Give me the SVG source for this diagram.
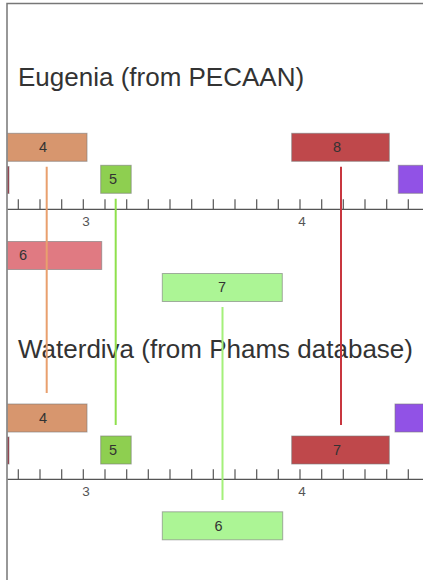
<svg xmlns="http://www.w3.org/2000/svg" width="423" height="580" viewBox="0 0 423 580">
  <style>
    .title { font-family: "Liberation Sans", Arial, sans-serif; font-size: 26px; fill: #333; }
    .lbl { font-family: "Liberation Sans", Arial, sans-serif; font-size: 14.5px; fill: #333; text-anchor: middle; }
    .axlbl { font-family: "Liberation Sans", Arial, sans-serif; font-size: 13.5px; fill: #555; text-anchor: middle; }
    .box { stroke: #7a7a7a; stroke-opacity: 0.6; stroke-width: 1; }
    .axis { stroke: #555; stroke-width: 1.2; fill: none; }
    .link { stroke-width: 2; fill: none; }
    .orange { fill: #d7966e; }
    .green { fill: #8ecf50; }
    .red { fill: #bf484b; }
    .purple { fill: #9152e6; }
    .pink { fill: #e07a82; }
    .lgreen { fill: #acf595; }
    .maroon { fill: #a03040; }
  </style>
  <defs>
    <path id="ticks" d="M18.3 0v-10M40 0v-10M61.7 0v-10M83.3 0v-10M105 0v-10M126.7 0v-10M148.3 0v-10M170 0v-10M191.7 0v-10M213.3 0v-10M235 0v-10M256.7 0v-10M278.3 0v-10M300 0v-10M321.7 0v-10M343.3 0v-10M365 0v-10M386.7 0v-10M408.3 0v-10"/>
    <clipPath id="plot">
      <rect x="7.5" y="0" width="420" height="580"/>
    </clipPath>
  </defs>

  <g clip-path="url(#plot)">
    <!-- first map -->
    <text class="title" x="18" y="86">Eugenia (from PECAAN)</text>
    <g id="axis-top">
      <path class="axis" d="M7 209.3H423"/>
      <use href="#ticks" class="axis" x="0" y="209.3"/>
      <text class="axlbl" x="86" y="226">3</text>
      <text class="axlbl" x="302" y="226">4</text>
    </g>
    <g id="t-4"><rect class="box orange" x="-20" y="133.3" width="107" height="28"/><text class="lbl" x="43" y="152">4</text></g>
    <g id="t-5"><rect class="box green" x="100.7" y="165.3" width="30.5" height="28"/><text class="lbl" x="113" y="184">5</text></g>
    <g id="t-3"><rect class="box maroon" x="-20" y="166.5" width="29" height="27"/></g>
    <g id="t-8"><rect class="box red" x="291.7" y="133.3" width="97.6" height="28"/><text class="lbl" x="337" y="152">8</text></g>
    <g id="t-9"><rect class="box purple" x="398.3" y="165.3" width="30" height="28"/></g>
    <g id="t-6"><rect class="box pink" x="-20" y="241.5" width="121.7" height="28"/><text class="lbl" x="23" y="260">6</text></g>
    <g id="t-7"><rect class="box lgreen" x="162.3" y="273.5" width="120" height="28"/><text class="lbl" x="222" y="292">7</text></g>

    <!-- second map -->
    <text class="title" x="18" y="358">Waterdiva (from Phams database)</text>
    <g id="axis-bottom">
      <path class="axis" d="M7 479.3H423"/>
      <use href="#ticks" class="axis" x="0" y="479.3"/>
      <text class="axlbl" x="86" y="496">3</text>
      <text class="axlbl" x="302" y="496">4</text>
    </g>
    <g id="b-4"><rect class="box orange" x="-20" y="404" width="107" height="28"/><text class="lbl" x="43" y="422.5">4</text></g>
    <g id="b-5"><rect class="box green" x="100.7" y="436" width="30.5" height="28"/><text class="lbl" x="113" y="454.5">5</text></g>
    <g id="b-3"><rect class="box maroon" x="-20" y="437" width="29" height="27"/></g>
    <g id="b-7"><rect class="box red" x="291.7" y="436" width="97.6" height="28"/><text class="lbl" x="337" y="454.5">7</text></g>
    <g id="b-8"><rect class="box purple" x="395" y="404" width="33" height="28"/></g>
    <g id="b-6"><rect class="box lgreen" x="162.3" y="511.8" width="120.4" height="28"/><text class="lbl" x="218.5" y="530.5">6</text></g>

    <!-- links between matching genes -->
    <g id="connectors">
      <path class="link" stroke="#e9a06e" d="M46.7 166.7V393"/>
      <path class="link" stroke="#8fe04c" d="M115.7 198.7V425"/>
      <path class="link" stroke="#c8363f" d="M341 166.7V425"/>
      <path class="link" stroke="#a4f07a" d="M222.5 307V500"/>
    </g>
  </g>

  <!-- frame -->
  <path d="M7 580V3.5H423" fill="none" stroke="#777" stroke-width="1.5"/>
</svg>
